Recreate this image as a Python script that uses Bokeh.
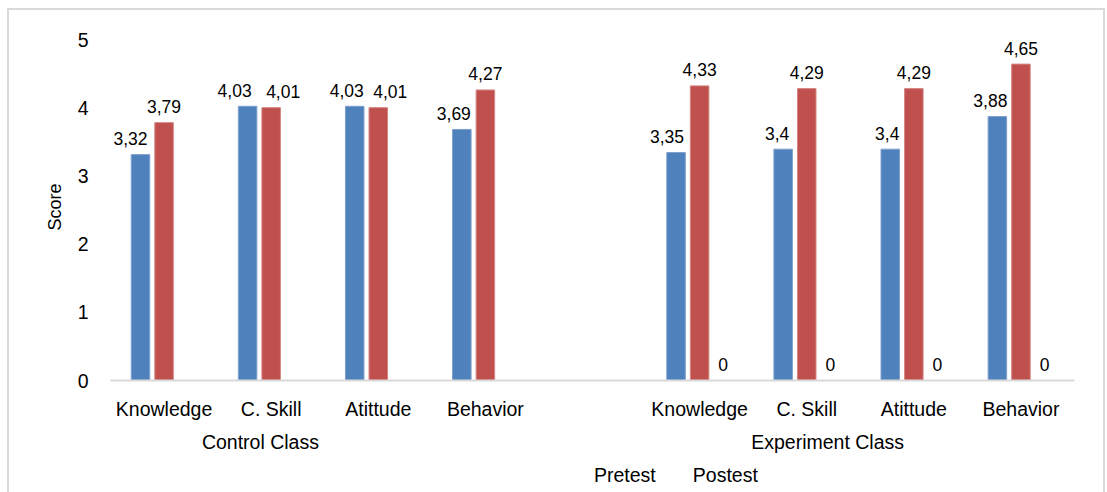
from bokeh.plotting import figure
from bokeh.layouts import column
from bokeh.models import (ColumnDataSource, Range1d, FixedTicker, LinearAxis,
                          Legend, LegendItem)
from bokeh.core.properties import value
from bokeh.embed import file_html
from bokeh.resources import INLINE

# ---- data -------------------------------------------------------------
groups = ["Control Class", "Experiment Class"]
aspects = ["Knowledge", "C. Skill", "Atittude", "Behavior"]
series_names = ["Pretest", "Postest"]

pretest_control = [3.32, 4.03, 4.03, 3.69]
postest_control = [3.79, 4.01, 4.01, 4.27]
pretest_experiment = [3.35, 3.40, 3.40, 3.88]
postest_experiment = [4.33, 4.29, 4.29, 4.65]
# third (unnamed) series: empty for the control class, zero for the experiment class
extra_control = [None, None, None, None]
extra_experiment = [0, 0, 0, 0]

y_ticks = [0, 1, 2, 3, 4, 5]

# ---- styling ----------------------------------------------------------
FONT = "Liberation Sans"
BLUE = "#4F81BD"
RED = "#C0504D"
GRAY = "#D9D9D9"
BAR_W = 0.173
DODGE = 0.22
# caption anchors for the two class groups (x in slot units)
group_caption_x = [1.40, 6.695]
# small horizontal nudges (px) for data labels that would otherwise touch
nudge_pre = [-10, -13, -8, -8, -9, -6, -3, -7]
nudge_post = [0, 12, 12, 0, 0, 0, 0, 0]
nudge_extra = [0, 0, 0, 0, 0, 0, 0, 0]

n_slots = len(groups) * (len(aspects) + 1) - 1


def slot_centers():
    xs = []
    for g in range(len(groups)):
        for a in range(len(aspects)):
            xs.append(g * (len(aspects) + 1) + a + 0.5)
    return xs


def fmt(v):
    return "" if v is None else f"{v:g}".replace(".", ",")


def series_source(values, offset, nudges):
    xs, tops, labels, nd = [], [], [], []
    for x, v, n in zip(slot_centers(), values, nudges):
        if v is None:
            continue
        xs.append(x + offset)
        tops.append(v)
        labels.append(fmt(v))
        nd.append(n)
    return ColumnDataSource(dict(x=xs, top=tops, label=labels, nudge=nd))


# ---- main chart -------------------------------------------------------
p = figure(
    frame_width=964, frame_height=347,
    x_range=Range1d(0, n_slots), y_range=Range1d(0, 5.1),
    output_backend="svg", toolbar_location=None,
    min_border_left=101, min_border_right=29,
    min_border_top=23, min_border_bottom=84,
)
p.outline_line_color = None
p.xgrid.visible = False
p.ygrid.visible = False
p.background_fill_color = "white"
p.border_fill_color = "white"

src_pre = series_source(pretest_control + pretest_experiment, -DODGE, nudge_pre)
src_post = series_source(postest_control + postest_experiment, 0.0, nudge_post)
src_extra = series_source(extra_control + extra_experiment, DODGE, nudge_extra)

p.vbar(x="x", top="top", width=BAR_W, source=src_pre,
       fill_color=BLUE, line_color="#7EA1CD", line_width=1)
p.vbar(x="x", top="top", width=BAR_W, source=src_post,
       fill_color=RED, line_color="#D48583", line_width=1)
p.vbar(x="x", top="top", width=BAR_W, source=src_extra,
       fill_color="#9BBB59", line_color=None)

for src in (src_pre, src_post, src_extra):
    p.text(x="x", y="top", text="label", source=src, x_offset="nudge", y_offset=-16,
           text_align="center", text_baseline="alphabetic",
           text_font=value(FONT), text_font_size="17.5px", text_color="#000000")


def plain_axis(ax):
    ax.major_tick_line_color = None
    ax.minor_tick_line_color = None
    ax.major_tick_out = 0
    ax.major_tick_in = 0
    ax.major_label_text_font = FONT
    ax.major_label_text_font_size = "19.5px"
    ax.major_label_text_color = "#000000"


# category axis
xa = p.xaxis[0]
xa.ticker = FixedTicker(ticks=slot_centers())
xa.major_label_overrides = {x: name for x, name in zip(slot_centers(), aspects * len(groups))}
xa.axis_line_color = GRAY
xa.axis_line_width = 2
xa.major_label_standoff = 17
plain_axis(xa)

# class-group axis underneath the categories
ga = LinearAxis(ticker=FixedTicker(ticks=group_caption_x),
                major_label_overrides=dict(zip(group_caption_x, groups)))
ga.axis_line_color = None
ga.major_label_standoff = 8
plain_axis(ga)
p.add_layout(ga, "below")

ya = p.yaxis[0]
ya.ticker = FixedTicker(ticks=y_ticks)
ya.axis_line_color = None
ya.major_label_standoff = 22
plain_axis(ya)
ya.axis_label = "Score"
ya.axis_label_text_font = FONT
ya.axis_label_text_font_size = "18px"
ya.axis_label_text_font_style = "normal"
ya.axis_label_text_color = "#000000"
ya.axis_label_standoff = 10

# ---- legend strip (full width, legend positioned inside its frame) ----
leg = figure(width=1094, height=28, output_backend="svg", toolbar_location=None,
             min_border=0, x_axis_type=None, y_axis_type=None)
leg.outline_line_color = None
leg.xgrid.visible = False
leg.ygrid.visible = False
leg.background_fill_color = "white"
leg.border_fill_color = "white"
swatches = [leg.vbar(x=[], top=[], width=1, fill_color=c, line_color=None)
            for c in (BLUE, RED)]
legend = Legend(
    items=[LegendItem(label=name, renderers=[r]) for name, r in zip(series_names, swatches)],
    orientation="horizontal", location=(464, 5),
    glyph_width=13, glyph_height=13, label_standoff=7, spacing=17,
    padding=0, margin=0, border_line_color=None, background_fill_alpha=0,
    label_text_font=FONT, label_text_font_size="19.5px", label_text_color="#000000",
)
leg.add_layout(legend, "center")

page = column(p, leg, margin=(10, 0, 0, 9), styles={"outline": f"2px solid {GRAY}"})

open("out.html", "w").write(file_html(page, INLINE))
